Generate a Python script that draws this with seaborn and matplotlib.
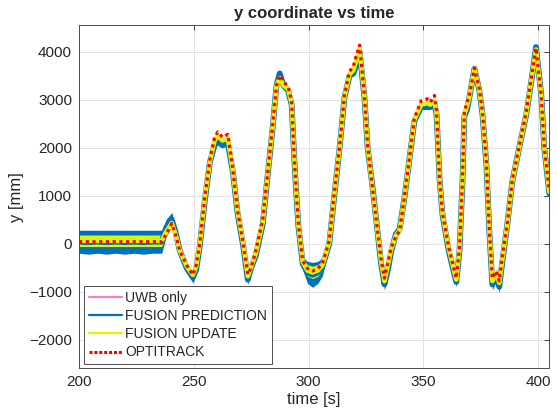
import matplotlib
matplotlib.use("Agg")
import matplotlib.pyplot as plt
from matplotlib.lines import Line2D
import numpy as np
import pandas as pd
import seaborn as sns

# ---- data ----
time = [200, 204, 208, 212, 216, 220, 224, 228, 232, 236,
        238, 240.4, 242, 243.9, 247, 249.6, 251, 252.6, 254.8, 257,
        259, 260.4, 262.5, 264.8, 267, 269, 271.5, 273.5, 275, 277,
        280, 282, 284.3, 286, 287.4, 289, 291, 292.6, 293.5, 294.3,
        295.5, 297.4, 299.5, 301.7, 304, 306, 309, 311, 313.5, 315.6,
        317.8, 319.5, 320.8, 322.2, 324.3, 325.7, 327.9, 330, 331.5, 333,
        334.5, 336, 338, 339.6, 341.7, 344, 346, 349, 351.7, 353,
        354.8, 355.7, 357, 358.3, 361, 363.5, 364.3, 365.7, 367, 367.8,
        369, 370, 372.2, 374.3, 375.7, 377.4, 378.7, 380, 381.7, 383,
        384.3, 386.5, 388.7, 391.7, 394.8, 397, 399, 401.3, 402.6, 404.8]

optitrack = [40, 40, 40, 40, 40, 40, 40, 40, 40, 40,
             200, 420, 200, -150, -460, -650, -450, 0, 970, 1750,
             2200, 2330, 2220, 2280, 1540, 700, 0, -640, -500, -150,
             490, 1400, 2450, 3300, 3510, 3380, 3280, 2960, 2030, 1330,
             420, -360, -520, -570, -520, -420, 60, 970, 2030, 3090,
             3590, 3700, 3930, 4140, 3090, 2030, 1120, 270, -300, -720,
             -400, -80, 150, 270, 970, 1820, 2600, 2980, 3020, 2950,
             3090, 2750, 1330, 630, -80, -570, -720, -80, 1330, 2750,
             2950, 3090, 3660, 3230, 2750, 1690, 270, -720, -570, -780,
             -300, 420, 1330, 2030, 2750, 3450, 4080, 3090, 2030, 1100]

prediction = [40, 30, 40, 30, 40, 30, 40, 30, 40, 40,
              330, 500, 250, -150, -520, -700, -550, -50, 900, 1700,
              2050, 2130, 2050, 2100, 1500, 650, -50, -750, -500, -250,
              400, 1350, 2400, 3300, 3550, 3300, 3200, 2900, 2000, 1300,
              380, -420, -600, -650, -600, -480, 0, 920, 2000, 3050,
              3500, 3550, 3750, 4000, 3050, 2000, 1150, 250, -400, -850,
              -550, -150, 200, 300, 950, 1800, 2550, 2850, 2850, 2850,
              2900, 2700, 1350, 600, -150, -650, -800, -150, 1300, 2650,
              2800, 3050, 3650, 3200, 2700, 1650, 250, -850, -650, -900,
              -400, 400, 1300, 2000, 2700, 3400, 4100, 3100, 2000, 1050]

pred_spread = [240, 250, 240, 250, 240, 250, 240, 250, 240, 240,
               180, 150, 120, 100, 100, 120, 100, 50, 30, 30,
               30, 30, 30, 30, 30, 30, 60, 100, 100, 100,
               60, 30, 30, 30, 40, 40, 40, 30, 30, 30,
               50, 130, 230, 260, 230, 190, 90, 40, 30, 30,
               40, 40, 40, 40, 30, 30, 40, 60, 80, 120,
               100, 100, 100, 70, 40, 30, 30, 50, 50, 50,
               50, 30, 30, 70, 90, 100, 100, 70, 30, 40,
               40, 40, 40, 40, 30, 30, 50, 120, 120, 120,
               100, 60, 30, 30, 30, 40, 40, 40, 30, 150]

update = [60, 60, 60, 60, 60, 60, 60, 60, 60, 60,
          250, 430, 200, -150, -480, -650, -480, 0, 950, 1720,
          2150, 2250, 2150, 2200, 1520, 680, 0, -680, -480, -200,
          450, 1380, 2420, 3300, 3450, 3300, 3230, 2930, 2020, 1320,
          400, -380, -560, -600, -560, -450, 30, 950, 2010, 3070,
          3530, 3620, 3830, 4050, 3070, 2010, 1130, 260, -350, -780,
          -450, -100, 170, 280, 960, 1810, 2580, 2900, 2930, 2900,
          2980, 2720, 1340, 620, -100, -600, -750, -100, 1310, 2700,
          2870, 3070, 3650, 3210, 2720, 1670, 260, -780, -600, -820,
          -350, 410, 1310, 2010, 2720, 3420, 4050, 3090, 2010, 1080]

upd_spread = [120, 120, 120, 120, 120, 120, 120, 120, 120, 120,
              80, 70, 60, 60, 70, 70, 60, 30, 20, 20,
              30, 40, 40, 40, 20, 20, 30, 60, 60, 60,
              30, 20, 20, 20, 30, 30, 30, 20, 20, 20,
              30, 80, 120, 130, 120, 100, 50, 20, 20, 20,
              30, 30, 30, 30, 20, 20, 20, 30, 40, 70,
              60, 60, 60, 40, 20, 20, 20, 30, 30, 30,
              30, 20, 20, 40, 50, 60, 60, 40, 20, 30,
              30, 30, 30, 30, 20, 20, 30, 70, 70, 70,
              60, 30, 20, 20, 20, 30, 30, 30, 20, 70]

uwb_only = prediction  # hidden underneath the prediction trace

series_names = ["UWB only", "FUSION PREDICTION", "FUSION UPDATE", "OPTITRACK"]
colors = ["#EE82C8", "#0072BD", "#E0F500", "#FF0000"]

x_ticks = [200, 250, 300, 350, 400]
y_ticks = [-2000, -1000, 0, 1000, 2000, 3000, 4000]

df = pd.DataFrame({
    "time": time,
    "uwb": uwb_only,
    "pred": prediction,
    "pred_lo": np.array(prediction) - np.array(pred_spread),
    "pred_hi": np.array(prediction) + np.array(pred_spread),
    "upd": update,
    "upd_lo": np.array(update) - np.array(upd_spread),
    "upd_hi": np.array(update) + np.array(upd_spread),
    "opti": optitrack,
})

sns.set_theme(style="white")
plt.rcParams["font.family"] = ["Liberation Sans", "DejaVu Sans"]

fig = plt.figure(figsize=(5.57, 4.15), dpi=100)
ax = fig.add_axes([79 / 557, 46.7 / 415, 470.3 / 557, 343.3 / 415])

sns.lineplot(data=df, x="time", y="uwb", ax=ax, color=colors[0], lw=2, sort=False)
ax.fill_between(df["time"], df["pred_lo"], df["pred_hi"], color=colors[1], lw=0)
sns.lineplot(data=df, x="time", y="pred", ax=ax, color=colors[1], lw=4.2, sort=False)
ax.fill_between(df["time"], df["upd_lo"], df["upd_hi"], color=colors[2], lw=0)
sns.lineplot(data=df, x="time", y="upd", ax=ax, color=colors[2], lw=3.3, sort=False)
sns.lineplot(data=df, x="time", y="opti", ax=ax, color=colors[3], lw=2.3,
             linestyle=(0, (1, 1.1)), sort=False)

ax.set_xlim(200, 404.8)
ax.set_ylim(-2600, 4560)
ax.set_xticks(x_ticks)
ax.set_yticks(y_ticks)
ax.grid(True, color="#dedede", lw=0.6)
ax.set_axisbelow(True)
ax.tick_params(direction="in", length=3.5, width=0.6, colors="#262626",
               labelsize=11, top=True, right=True, pad=5)
for s in ax.spines.values():
    s.set_color("#4d4d4d")
    s.set_linewidth(0.7)

ax.set_title("y coordinate vs time", fontsize=12, fontweight="bold", pad=5)
ax.set_xlabel("time [s]", fontsize=12, color="#262626", labelpad=2)
ax.set_ylabel("y [mm]", fontsize=12, color="#262626", labelpad=4)

handles = [Line2D([], [], color=colors[0], lw=1.6),
           Line2D([], [], color=colors[1], lw=1.6),
           Line2D([], [], color=colors[2], lw=1.6),
           Line2D([], [], color=colors[3], lw=2.2, linestyle=(0, (1, 0.6)))]
leg = ax.legend(handles, series_names, loc="lower left",
                bbox_to_anchor=(0.0106, 0.0117), borderaxespad=0,
                fontsize=10, handlelength=2.4, handletextpad=0.2,
                labelspacing=0.3, borderpad=0.35, fancybox=False,
                framealpha=1, edgecolor="#4d4d4d")
leg.get_frame().set_linewidth(0.7)

fig.savefig("out.png", dpi=100)
